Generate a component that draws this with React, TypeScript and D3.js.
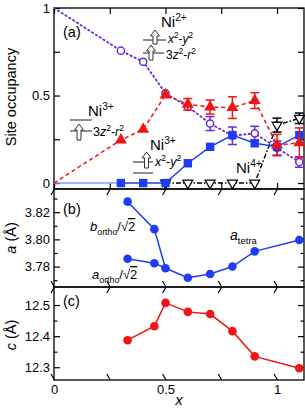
import React, { useEffect, useRef } from "react";
import * as d3 from "d3";

// panel (a): site occupancy
const xOcc = [0.3, 0.4, 0.5, 0.6, 0.7, 0.8, 0.9, 1.0, 1.1];
const ni2 = [0.756, 0.693, 0.513, 0.436, 0.34, 0.27, 0.284, 0.2, 0.12];
const ni2Err = [0, 0, 0, 0, 0.04, 0.05, 0.04, 0.04, 0.03];
const ni3z = [0.246, 0.307, 0.503, 0.45, 0.434, 0.431, 0.471, 0.217, 0.23];
const ni3zErr = [0, 0, 0, 0.033, 0.04, 0.062, 0.045, 0.061, 0.085];
const ni3x = [0, 0, 0, 0.113, 0.207, 0.274, 0.227, 0.207, 0.274];
const xNi4 = [0.5, 0.6, 0.7, 0.8, 0.9, 1.0, 1.1];
const ni4 = [0, 0, 0, 0, 0, 0.331, 0.37];
const ni4Err = [0, 0, 0, 0, 0, 0.04, 0.03];

// panel (b): in-plane lattice constant
const xOrtho = [0.33, 0.45];
const bOrtho = [3.8277, 3.8075];
const aOrtho = [3.7858, 3.7825];
const xTetra = [0.5, 0.6, 0.7, 0.8, 0.9, 1.1];
const aTetra = [3.7788, 3.7718, 3.7745, 3.78, 3.7912, 3.7995];

// panel (c): c-axis lattice constant
const xC = [0.33, 0.45, 0.5, 0.6, 0.7, 0.8, 0.9, 1.1];
const cVals = [12.387, 12.432, 12.507, 12.478, 12.471, 12.416, 12.335, 12.297];

const xTicks = [0, 0.25, 0.5, 0.75, 1];
const occTicks = [0, 0.25, 0.5, 0.75, 1];
const aTicks = [3.77, 3.78, 3.79, 3.8, 3.81, 3.82, 3.83];
const cTicks = [12.3, 12.35, 12.4, 12.45, 12.5];

const RED = "#f01414";
const BLUE = "#1e3cf5";
const PURPLE = "#6a2ad6";
const font = "'Liberation Sans', Arial, sans-serif";

type Part = [string, string?, boolean?];

export default function App() {
  const ref = useRef<SVGSVGElement>(null);

  useEffect(() => {
    const svg = d3.select(ref.current);
    svg.selectAll("*").remove();

    const L = 54;
    const R = 304;
    const x = d3.scaleLinear().domain([0, 1.121]).range([L, R]);
    const yA = d3.scaleLinear().domain([-0.034, 1]).range([189, 8]);
    const yB = d3.scaleLinear().domain([3.765, 3.837]).range([287, 189]);
    const yC = d3.scaleLinear().domain([12.259, 12.558]).range([380, 287]);

    const frame = (y: any, ticks: number[], labelled: number[], fmt: (d: number) => string, showX: boolean) => {
      const top = y.range()[1];
      const bot = y.range()[0];
      const g = svg.append("g");
      const isMajor = (d: number) => labelled.some((v) => Math.abs(v - d) < 1e-9);
      g.append("g")
        .attr("transform", `translate(${L},0)`)
        .call(
          d3.axisLeft(y).tickValues(ticks).tickSize(-6).tickPadding(4)
            .tickFormat((d: any) => (isMajor(d) ? fmt(d) : ""))
        );
      g.append("g")
        .attr("transform", `translate(${R},0)`)
        .call(d3.axisRight(y).tickValues(ticks).tickSize(-6).tickFormat(() => ""));
      g.append("g")
        .attr("transform", `translate(0,${bot})`)
        .call(
          d3.axisBottom(x).tickValues(xTicks).tickSize(-6).tickPadding(5)
            .tickFormat((d: any) => (showX && (d === 0 || d === 0.5 || d === 1) ? String(d) : ""))
        );
      g.append("g")
        .attr("transform", `translate(0,${top})`)
        .call(d3.axisTop(x).tickValues(xTicks).tickSize(-6).tickFormat(() => ""));
      g.selectAll(".domain").remove();
      g.selectAll(".tick line").attr("stroke", "#000").attr("stroke-width", 1.2);
      g.selectAll(".tick line").filter((d: any) => !isMajor(d) && y.domain()[0] > 1).attr("x2", function () {
        const v = +d3.select(this as any).attr("x2");
        return v > 0 ? 3.5 : -3.5;
      });
      g.selectAll("text").attr("font-family", font).attr("font-size", 13).attr("fill", "#000");
      g.append("rect")
        .attr("x", L).attr("y", top)
        .attr("width", R - L).attr("height", bot - top)
        .attr("fill", "none").attr("stroke", "#000").attr("stroke-width", 1.3);
    };

    frame(yA, occTicks, [0, 0.5, 1], (d) => String(d), false);
    frame(yB, aTicks, [3.78, 3.8, 3.82], d3.format(".2f"), false);
    frame(yC, cTicks, [12.3, 12.4, 12.5], d3.format(".1f"), true);

    const rich = (px: number, py: number, parts: Part[], size = 13, g: any = svg) => {
      const t = g.append("text").attr("x", px).attr("y", py)
        .attr("font-family", font).attr("font-size", size).attr("fill", "#000");
      let shift = 0;
      parts.forEach(([s, mode, ital]) => {
        const sp = t.append("tspan").text(s);
        let target = 0;
        if (mode === "sup") target = -size * 0.4;
        if (mode === "sub") target = size * 0.3;
        if (target !== shift) sp.attr("dy", target - shift);
        shift = target;
        if (mode === "sup" || mode === "sub") sp.attr("font-size", size * 0.68);
        if (mode === "over") sp.attr("text-decoration", "overline");
        if (ital) sp.attr("font-style", "italic");
      });
      return t;
    };

    // ---- panel (a) lines
    const pa = svg.append("g");
    const lineA = d3.line<[number, number]>().x((d) => x(d[0])).y((d) => yA(d[1]));
    const pairs = (xs: number[], ys: number[]) => xs.map((v, i) => [v, ys[i]] as [number, number]);

    const errBars = (xs: number[], ys: number[], es: number[], color: string) => {
      xs.forEach((v, i) => {
        if (!es[i]) return;
        const cx = x(v);
        const y1 = yA(ys[i] - es[i]);
        const y2 = yA(ys[i] + es[i]);
        pa.append("line").attr("x1", cx).attr("x2", cx).attr("y1", y1).attr("y2", y2)
          .attr("stroke", color).attr("stroke-width", 1.5);
        [y1, y2].forEach((yy) =>
          pa.append("line").attr("x1", cx - 4.5).attr("x2", cx + 4.5).attr("y1", yy).attr("y2", yy)
            .attr("stroke", color).attr("stroke-width", 1.5)
        );
      });
    };

    // Ni2+ (purple, dotted, open circles)
    pa.append("path").datum([[0, 1] as [number, number], ...pairs(xOcc, ni2)])
      .attr("d", lineA).attr("fill", "none").attr("stroke", PURPLE)
      .attr("stroke-width", 1.8).attr("stroke-dasharray", "1.5,3").attr("stroke-linecap", "round");
    errBars(xOcc, ni2, ni2Err, PURPLE);
    pa.selectAll(".c2").data(pairs(xOcc, ni2)).join("circle")
      .attr("cx", (d) => x(d[0])).attr("cy", (d) => yA(d[1])).attr("r", 3.6)
      .attr("fill", "#fff").attr("stroke", PURPLE).attr("stroke-width", 1.5);

    // Ni4+ (black, dash-dot, open down triangles)
    pa.append("path").datum(pairs(xNi4, ni4))
      .attr("d", lineA).attr("fill", "none").attr("stroke", "#000")
      .attr("stroke-width", 1.4).attr("stroke-dasharray", "5,2,1.5,2");
    errBars(xNi4, ni4, ni4Err, "#000");
    const triDown = d3.symbol(d3.symbolTriangle, 42);
    pa.selectAll(".t4").data(pairs(xNi4, ni4)).join("path")
      .attr("d", triDown)
      .attr("transform", (d) => `translate(${x(d[0])},${yA(d[1])}) rotate(180)`)
      .attr("fill", "#fff").attr("stroke", "#000").attr("stroke-width", 1.3);

    // Ni3+ x2-y2 (blue, solid, squares)
    pa.append("path").datum([[0, 0], [xOcc[0], ni3x[0]]] as [number, number][])
      .attr("d", lineA).attr("fill", "none").attr("stroke", "#8a9cff").attr("stroke-width", 1.4);
    pa.append("path").datum(pairs(xOcc, ni3x))
      .attr("d", lineA).attr("fill", "none").attr("stroke", BLUE).attr("stroke-width", 1.5);
    pa.selectAll(".sq").data(pairs(xOcc, ni3x)).join("rect")
      .attr("x", (d) => x(d[0]) - 4.2).attr("y", (d) => yA(d[1]) - 4.2)
      .attr("width", 8.4).attr("height", 8.4).attr("fill", BLUE);

    // Ni3+ 3z2-r2 (red, dashed, filled up triangles)
    pa.append("path").datum([[0, 0] as [number, number], ...pairs(xOcc, ni3z)])
      .attr("d", lineA).attr("fill", "none").attr("stroke", RED)
      .attr("stroke-width", 1.5).attr("stroke-dasharray", "4,3");
    errBars(xOcc, ni3z, ni3zErr, RED);
    const triUp = d3.symbol(d3.symbolTriangle, 62);
    pa.selectAll(".t3").data(pairs(xOcc, ni3z)).join("path")
      .attr("d", triUp)
      .attr("transform", (d) => `translate(${x(d[0])},${yA(d[1])})`)
      .attr("fill", RED);

    // ---- panel (b)
    const lineB = d3.line<[number, number]>().x((d) => x(d[0])).y((d) => yB(d[1]));
    const t0: [number, number] = [xTetra[0], aTetra[0]];
    [bOrtho, aOrtho].forEach((arr) => {
      svg.append("path").datum([...pairs(xOrtho, arr), t0])
        .attr("d", lineB).attr("fill", "none").attr("stroke", BLUE).attr("stroke-width", 1.5);
    });
    svg.append("path").datum(pairs(xTetra, aTetra))
      .attr("d", lineB).attr("fill", "none").attr("stroke", BLUE).attr("stroke-width", 1.5);
    svg.selectAll(".pb").data([...pairs(xOrtho, bOrtho), ...pairs(xOrtho, aOrtho), ...pairs(xTetra, aTetra)])
      .join("circle").attr("cx", (d) => x(d[0])).attr("cy", (d) => yB(d[1])).attr("r", 4.3).attr("fill", BLUE);

    // ---- panel (c)
    const lineC = d3.line<[number, number]>().x((d) => x(d[0])).y((d) => yC(d[1]));
    svg.append("path").datum(pairs(xC, cVals))
      .attr("d", lineC).attr("fill", "none").attr("stroke", RED).attr("stroke-width", 1.5);
    svg.selectAll(".pc").data(pairs(xC, cVals))
      .join("circle").attr("cx", (d) => x(d[0])).attr("cy", (d) => yC(d[1])).attr("r", 4.3).attr("fill", RED);

    // ---- annotations
    const level = (x1: number, x2: number, yy: number) =>
      svg.append("line").attr("x1", x1).attr("x2", x2).attr("y1", yy).attr("y2", yy)
        .attr("stroke", "#333").attr("stroke-width", 1.1);
    const arrow = (cx: number, yTop: number, yBot: number) =>
      svg.append("path")
        .attr("d", `M${cx},${yTop} L${cx + 4.5},${yTop + 6} L${cx + 2},${yTop + 6} L${cx + 2},${yBot} L${cx - 2},${yBot} L${cx - 2},${yTop + 6} L${cx - 4.5},${yTop + 6} Z`)
        .attr("fill", "#fff").attr("stroke", "#333").attr("stroke-width", 1);

    rich(63, 37, [["(a)"]], 14.5);
    rich(63, 214, [["(b)"]], 14.5);
    rich(63, 306, [["(c)"]], 14.5);

    // Ni2+ diagram
    rich(161, 27, [["Ni"], ["2+", "sup"]], 15);
    level(143, 166, 40);
    arrow(155, 30, 44);
    level(143, 164, 53);
    arrow(151, 45, 60);
    rich(168, 43, [["x", "", true], ["2", "sup"], ["-"], ["y", "", true], ["2", "sup"]], 12);
    rich(166, 59, [["3"], ["z", "", true], ["2", "sup"], ["-"], ["r", "", true], ["2", "sup"]], 12);

    // Ni3+ (3z2-r2)
    rich(88, 116, [["Ni"], ["3+", "sup"]], 15);
    level(70, 92, 120);
    level(70, 92, 131);
    arrow(79, 124, 140);
    rich(93, 136, [["3"], ["z", "", true], ["2", "sup"], ["-"], ["r", "", true], ["2", "sup"]], 12.5);

    // Ni3+ (x2-y2)
    rich(150, 150, [["Ni"], ["3+", "sup"]], 15);
    level(133, 153, 162);
    arrow(146.5, 152, 168);
    level(133, 153, 173);
    rich(155, 166, [["x", "", true], ["2", "sup"], ["-"], ["y", "", true], ["2", "sup"]], 12.5);

    rich(236, 173, [["Ni"], ["4+", "sup"]], 15);

    // panel (b) labels
    rich(90, 231, [["b", "", true], ["ortho", "sub"], ["/√"], ["2", "over"]], 13);
    rich(92, 279, [["a", "", true], ["ortho", "sub"], ["/√"], ["2", "over"]], 13);
    rich(230, 240, [["a", "", true], ["tetra", "sub"]], 14);

    // axis titles
    const yTitle = (cy: number, parts: Part[]) => {
      const g = svg.append("g").attr("transform", `translate(16,${cy}) rotate(-90)`);
      rich(0, 0, parts, 14.5, g).attr("text-anchor", "middle");
    };
    yTitle(97, [["Site occupancy"]]);
    yTitle(238, [["a", "", true], [" (Å)"]]);
    yTitle(335, [["c", "", true], [" (Å)"]]);
    rich(179, 405, [["x", "", true]], 15).attr("text-anchor", "middle");
  }, []);

  return (
    <div>
      <style>{"body{margin:0}"}</style>
      <svg ref={ref} width={305} height={412} style={{ display: "block", background: "#fff" }} />
    </div>
  );
}
